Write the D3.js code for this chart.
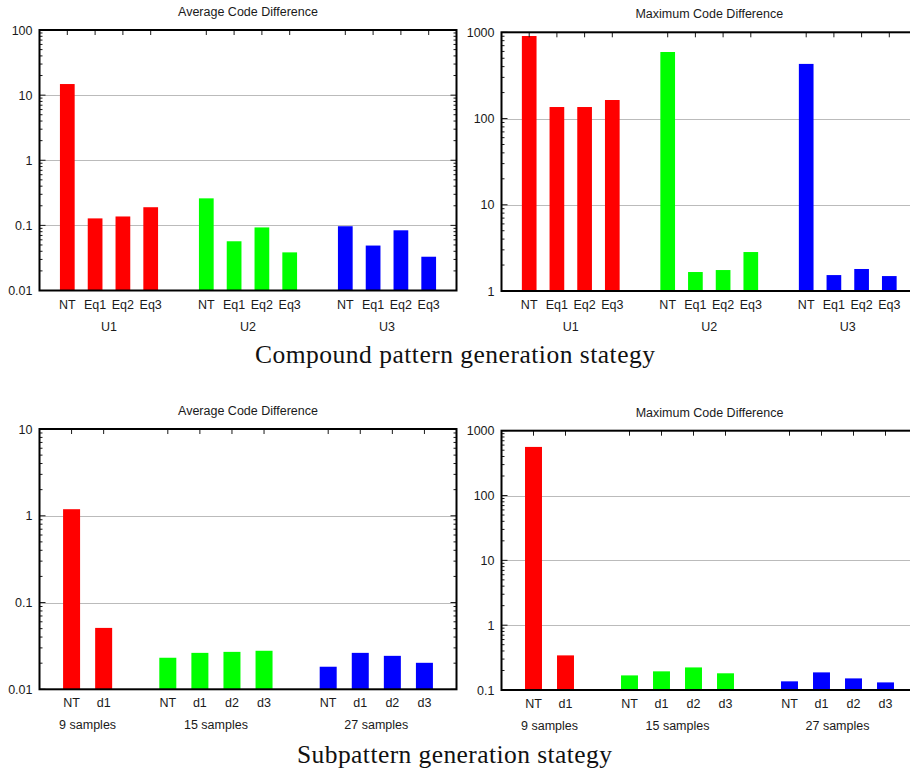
<!DOCTYPE html>
<html>
<head>
<meta charset="utf-8">
<script src="https://cdn.jsdelivr.net/npm/d3@7"></script>
<style>
  body { margin: 0; background: #fff; }
  svg { display: block; }
</style>
</head>
<body>
<script>
// values
var compoundGroups = ["U1", "U2", "U3"];
var compoundCats = [["NT", "Eq1", "Eq2", "Eq3"], ["NT", "Eq1", "Eq2", "Eq3"], ["NT", "Eq1", "Eq2", "Eq3"]];
var compoundAvg = [[14.8, 0.128, 0.137, 0.19], [0.26, 0.057, 0.093, 0.0385], [0.097, 0.049, 0.084, 0.033]];
var compoundMax = [[906, 136, 136, 164], [591, 1.66, 1.75, 2.83], [430, 1.53, 1.80, 1.49]];

var subGroups = ["9 samples", "15 samples", "27 samples"];
var subCats = [["NT", "d1"], ["NT", "d1", "d2", "d3"], ["NT", "d1", "d2", "d3"]];
var subAvg = [[1.19, 0.051], [0.0231, 0.0263, 0.027, 0.0278], [0.0182, 0.0263, 0.0243, 0.0202]];
var subMax = [[562, 0.342], [0.168, 0.194, 0.223, 0.181], [0.136, 0.187, 0.151, 0.131]];

var groupColors = ["#ff0000", "#00ff00", "#0000ff"];

var ticksAvgTop = [0.01, 0.1, 1, 10, 100];
var ticksMaxTop = [1, 10, 100, 1000];
var ticksAvgBottom = [0.01, 0.1, 1, 10];
var ticksMaxBottom = [0.1, 1, 10, 100, 1000];

var W = 910, H = 773;
var fs = 12.5;
var svg = d3.select("body").append("svg")
    .attr("width", W)
    .attr("height", H)
    .style("font-family", "'Liberation Sans', Arial, sans-serif");

function panel(opt) {
    // flatten groups into bar positions with one empty slot between groups
    var bars = [], groupMid = [], pos = 0;
    opt.cats.forEach(function(cs, g) {
        cs.forEach(function(c, i) {
            bars.push({pos: pos + i, cat: c, value: opt.values[g][i], color: groupColors[g]});
        });
        groupMid.push({pos: pos + (cs.length - 1) / 2, name: opt.groups[g]});
        pos += cs.length + 1;
    });
    var xMax = pos - 1;

    var x = d3.scaleLinear().domain([-1, xMax]).range([opt.left, opt.right]);
    var y = d3.scaleLog().domain(d3.extent(opt.ticks)).range([opt.bottom, opt.top]);
    var g = svg.append("g");
    var ink = "#1a1a1a";

    // grid at inner decades
    g.selectAll(".grid")
        .data(opt.ticks.slice(1, -1))
        .enter().append("line")
        .attr("x1", opt.left).attr("x2", opt.right)
        .attr("y1", function(d) { return Math.round(y(d)) + 0.5; })
        .attr("y2", function(d) { return Math.round(y(d)) + 0.5; })
        .attr("stroke", "#777")
        .attr("stroke-width", 1)
        .attr("stroke-dasharray", "1,1");

    var bw = x(0.53) - x(0);
    g.selectAll(".bar")
        .data(bars)
        .enter().append("rect")
        .attr("x", function(d) { return x(d.pos) - bw / 2; })
        .attr("y", function(d) { return y(d.value); })
        .attr("width", bw)
        .attr("height", function(d) { return opt.bottom - y(d.value); })
        .attr("fill", function(d) { return d.color; });

    // minor log ticks
    var minors = [];
    for (var dec = opt.ticks[0]; dec < opt.ticks[opt.ticks.length - 1]; dec *= 10) {
        for (var k = 2; k <= 9; k++) minors.push(k * dec);
    }
    [[opt.left, 1], [opt.right, -1]].forEach(function(side) {
        g.selectAll(null)
            .data(minors)
            .enter().append("line")
            .attr("x1", side[0]).attr("x2", side[0] + side[1] * 3)
            .attr("y1", function(d) { return y(d); })
            .attr("y2", function(d) { return y(d); })
            .attr("stroke", ink);
        g.selectAll(null)
            .data(opt.ticks)
            .enter().append("line")
            .attr("x1", side[0]).attr("x2", side[0] + side[1] * 6)
            .attr("y1", function(d) { return y(d); })
            .attr("y2", function(d) { return y(d); })
            .attr("stroke", ink);
    });

    // top mirrored x ticks
    g.selectAll(null)
        .data(bars)
        .enter().append("line")
        .attr("x1", function(d) { return x(d.pos); })
        .attr("x2", function(d) { return x(d.pos); })
        .attr("y1", opt.top).attr("y2", opt.top + 5)
        .attr("stroke", ink);

    g.append("rect")
        .attr("x", opt.left).attr("y", opt.top)
        .attr("width", opt.right - opt.left)
        .attr("height", opt.bottom - opt.top)
        .attr("fill", "none")
        .attr("stroke", "#000")
        .attr("stroke-width", 2);

    // y labels
    g.selectAll(".ylab")
        .data(opt.ticks)
        .enter().append("text")
        .attr("x", opt.left - 7)
        .attr("y", function(d) { return y(d) + 4.5; })
        .attr("text-anchor", "end")
        .attr("font-size", fs)
        .attr("fill", ink)
        .text(function(d) { return String(d); });

    g.selectAll(".xlab")
        .data(bars)
        .enter().append("text")
        .attr("x", function(d) { return x(d.pos); })
        .attr("y", opt.bottom + 18)
        .attr("text-anchor", "middle")
        .attr("font-size", fs)
        .attr("fill", ink)
        .text(function(d) { return d.cat; });

    g.selectAll(".glab")
        .data(groupMid)
        .enter().append("text")
        .attr("x", function(d) { return x(d.pos); })
        .attr("y", opt.bottom + 40)
        .attr("text-anchor", "middle")
        .attr("font-size", fs)
        .attr("fill", ink)
        .text(function(d) { return d.name; });

    g.append("text")
        .attr("x", (opt.left + opt.right) / 2)
        .attr("y", opt.top - 14)
        .attr("text-anchor", "middle")
        .attr("font-size", fs)
        .attr("fill", ink)
        .text(opt.title);
}

panel({left: 39.5, right: 456.5, top: 30, bottom: 290.5, ticks: ticksAvgTop,
       groups: compoundGroups, cats: compoundCats, values: compoundAvg, title: "Average Code Difference"});
panel({left: 501.5, right: 917, top: 32.3, bottom: 291, ticks: ticksMaxTop,
       groups: compoundGroups, cats: compoundCats, values: compoundMax, title: "Maximum Code Difference"});
panel({left: 39.5, right: 456.5, top: 429, bottom: 689.3, ticks: ticksAvgBottom,
       groups: subGroups, cats: subCats, values: subAvg, title: "Average Code Difference"});
panel({left: 501.5, right: 917.5, top: 430.7, bottom: 690, ticks: ticksMaxBottom,
       groups: subGroups, cats: subCats, values: subMax, title: "Maximum Code Difference"});

// captions
svg.append("text")
    .attr("x", 255).attr("y", 362.5)
    .attr("font-family", "'Liberation Serif', 'Times New Roman', serif")
    .attr("font-size", 25.5)
    .attr("textLength", 400)
    .attr("lengthAdjust", "spacing")
    .attr("fill", "#111")
    .text("Compound pattern generation stategy");

svg.append("text")
    .attr("x", 297).attr("y", 763)
    .attr("font-family", "'Liberation Serif', 'Times New Roman', serif")
    .attr("font-size", 25.5)
    .attr("textLength", 315)
    .attr("lengthAdjust", "spacing")
    .attr("fill", "#111")
    .text("Subpattern generation stategy");
</script>
</body>
</html>
